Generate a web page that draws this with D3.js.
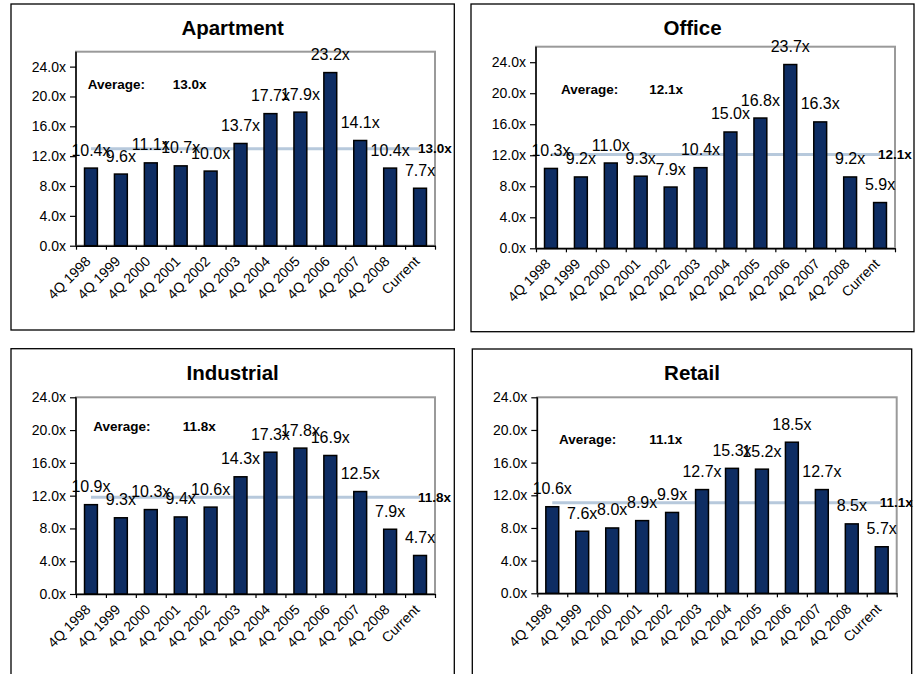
<!DOCTYPE html>
<html>
<head>
<meta charset="utf-8">
<script src="https://cdn.jsdelivr.net/npm/d3@7"></script>
<style>
  html, body { margin: 0; padding: 0; background: #fff; }
  svg { display: block; font-family: "Liberation Sans", Arial, sans-serif; }
</style>
</head>
<body>
<svg id="chart" width="916" height="674"></svg>
<script>
// ---------------- DATA ----------------
const categories = ["4Q 1998", "4Q 1999", "4Q 2000", "4Q 2001", "4Q 2002", "4Q 2003",
                    "4Q 2004", "4Q 2005", "4Q 2006", "4Q 2007", "4Q 2008", "Current"];
const apartment  = [10.4, 9.6, 11.1, 10.7, 10.0, 13.7, 17.7, 17.9, 23.2, 14.1, 10.4, 7.7];
const office     = [10.3, 9.2, 11.0, 9.3, 7.9, 10.4, 15.0, 16.8, 23.7, 16.3, 9.2, 5.9];
const industrial = [10.9, 9.3, 10.3, 9.4, 10.6, 14.3, 17.3, 17.8, 16.9, 12.5, 7.9, 4.7];
const retail     = [10.6, 7.6, 8.0, 8.9, 9.9, 12.7, 15.3, 15.2, 18.5, 12.7, 8.5, 5.7];
const titles     = ["Apartment", "Office", "Industrial", "Retail"];
const averages   = [13.0, 12.1, 11.8, 11.1];
const axisMax    = [26, 26, 24, 24];
const yTickValues = [0, 4, 8, 12, 16, 20, 24];

// ---------------- LAYOUT ----------------
const seriesList = [apartment, office, industrial, retail];
const layout = [
  { box: [11, 4, 454.3, 330],     plot: [76, 51.7, 435, 245.7],    avgText: [87.7, 89, 172.7] },
  { box: [471, 4, 914, 331.7],    plot: [536, 46.7, 895, 248.3],   avgText: [561, 94.3, 649.3] },
  { box: [11, 348.7, 454.3, 700], plot: [76, 397.3, 435, 594],     avgText: [93.3, 430.7, 182.7] },
  { box: [472.3, 349, 911.7, 700],plot: [537.3, 397.3, 896.7, 593.3], avgText: [559, 444.3, 649.3] }
];

const BAR_FILL = "#0e2d63";
const AVG_COLOR = "#b7c9dc";
const fmt = v => v.toFixed(1) + "x";

const svg = d3.select("#chart");
svg.append("rect").attr("width", 916).attr("height", 674).attr("fill", "#fff");

titles.forEach((title, i) => {
  const values = seriesList[i];
  const L = layout[i];
  const [bx0, by0, bx1, by1] = L.box;
  const [px0, py0, px1, py1] = L.plot;
  const g = svg.append("g");

  // panel frame
  g.append("rect")
    .attr("x", bx0).attr("y", by0)
    .attr("width", bx1 - bx0).attr("height", by1 - by0)
    .attr("fill", "#fff").attr("stroke", "#000").attr("stroke-width", 1.3);

  // title
  g.append("text")
    .attr("x", (bx0 + bx1) / 2).attr("y", by0 + 31.4)
    .attr("text-anchor", "middle")
    .attr("font-size", "20.5px").attr("font-weight", "bold")
    .text(title);

  // scales
  const x = d3.scaleBand().domain(categories).range([px0, px1])
    .paddingInner(0.57).paddingOuter(0.285);
  const xEdge = d3.scaleLinear().domain([0, categories.length]).range([px0, px1]);
  const y = d3.scaleLinear().domain([0, axisMax[i]]).range([py1, py0]);
  const cx = c => x(c) + x.bandwidth() / 2;

  // plot area border (gray top/right)
  g.append("rect")
    .attr("x", px0).attr("y", py0)
    .attr("width", px1 - px0).attr("height", py1 - py0)
    .attr("fill", "none").attr("stroke", "#9a9a9a").attr("stroke-width", 2);

  // average line (behind bars)
  const avg = averages[i];
  g.append("line")
    .attr("x1", cx(categories[0])).attr("x2", cx(categories[categories.length - 1]))
    .attr("y1", y(avg)).attr("y2", y(avg))
    .attr("stroke", AVG_COLOR).attr("stroke-width", 3);

  // bars
  g.selectAll("rect.bar").data(values).join("rect")
    .attr("class", "bar")
    .attr("x", (d, j) => x(categories[j]))
    .attr("y", d => y(d))
    .attr("width", x.bandwidth())
    .attr("height", d => y(0) - y(d))
    .attr("fill", BAR_FILL).attr("stroke", "#000").attr("stroke-width", 1.5);

  // y axis
  const yAxis = g.append("g").attr("transform", `translate(${px0},0)`)
    .call(d3.axisLeft(y).tickValues(yTickValues).tickFormat(fmt).tickSize(6).tickSizeOuter(0).tickPadding(4));
  yAxis.select(".domain").attr("stroke", "#000").attr("stroke-width", 1.5)
    .attr("d", `M0,${py0}V${py1}`);
  yAxis.selectAll(".tick line").attr("stroke", "#000").attr("stroke-width", 1.2);
  yAxis.selectAll(".tick text").attr("font-size", "14px").attr("fill", "#000")
    .attr("font-family", "Liberation Sans, Arial, sans-serif");

  // x axis (ticks at category boundaries)
  const xAxis = g.append("g").attr("transform", `translate(0,${py1})`)
    .call(d3.axisBottom(xEdge).tickValues(d3.range(categories.length + 1)).tickFormat("").tickSize(4).tickSizeOuter(0));
  xAxis.select(".domain").attr("stroke", "#000").attr("stroke-width", 1.5);
  xAxis.selectAll(".tick line").attr("stroke", "#000").attr("stroke-width", 1.2);

  // x labels rotated
  g.selectAll("text.xlab").data(categories).join("text")
    .attr("class", "xlab")
    .attr("transform", c => `translate(${cx(c) - 3},${py1 + 13}) rotate(-45)`)
    .attr("text-anchor", "end").attr("dy", "0.35em")
    .attr("font-size", "14px")
    .text(c => c);

  // average text
  g.append("text").attr("x", L.avgText[0]).attr("y", L.avgText[1])
    .attr("font-size", "13.5px").attr("font-weight", "bold").text("Average:");
  g.append("text").attr("x", L.avgText[2]).attr("y", L.avgText[1])
    .attr("font-size", "13.5px").attr("font-weight", "bold").text(fmt(avg));

  // average end label
  g.append("text")
    .attr("x", cx(categories[categories.length - 1]) - 2).attr("y", y(avg))
    .attr("dy", "0.35em")
    .attr("font-size", "13.5px").attr("font-weight", "bold")
    .text(fmt(avg));

  // data labels
  g.selectAll("text.dlab").data(values).join("text")
    .attr("class", "dlab")
    .attr("x", (d, j) => cx(categories[j]))
    .attr("y", d => y(d) - 12.5)
    .attr("text-anchor", "middle")
    .attr("font-size", "16px")
    .text(d => fmt(d));
});
</script>
</body>
</html>
